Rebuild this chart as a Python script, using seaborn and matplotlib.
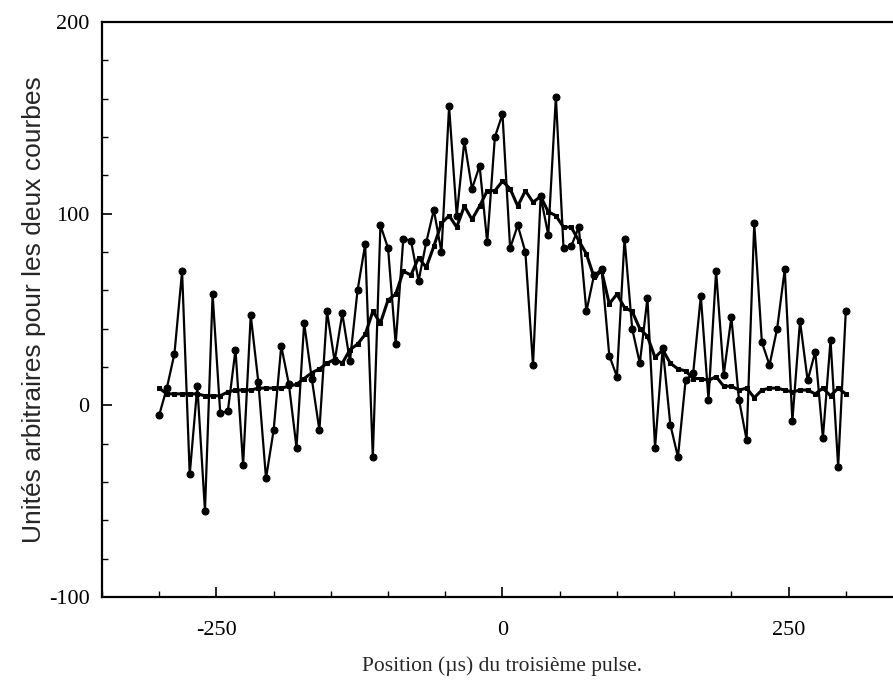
import matplotlib
matplotlib.use('Agg')
import matplotlib.pyplot as plt
from matplotlib.ticker import MultipleLocator
import seaborn as sns
import numpy as np

sns.set_style('ticks')
plt.rcParams['font.family'] = ['Liberation Serif', 'DejaVu Serif']
plt.rcParams['axes.unicode_minus'] = False

#Position of the third pulse (µs), one point every 20/3 µs
positions = np.linspace(-300, 300, 91)

#Noisy curve (big dots)
signal_raw = [-5, 9, 27, 70, -36, 10, -55, 58, -4, -3,
              29, -31, 47, 12, -38, -13, 31, 11, -22, 43,
              14, -13, 49, 23, 48, 23, 60, 84, -27, 94,
              82, 32, 87, 86, 65, 85, 102, 80, 156, 99,
              138, 113, 125, 85, 140, 152, 82, 94, 80, 21,
              109, 89, 161, 82, 83, 93, 49, 68, 71, 26,
              15, 87, 40, 22, 56, -22, 30, -10, -27, 13,
              17, 57, 3, 70, 16, 46, 3, -18, 95, 33,
              21, 40, 71, -8, 44, 13, 28, -17, 34, -32,
              49]

#Smooth curve (small squares)
signal_smooth = [9, 6, 6, 6, 6, 6, 5, 5, 5, 7,
                 8, 8, 8, 9, 9, 9, 9, 10, 11, 14,
                 17, 19, 22, 24, 22, 29, 32, 37, 49, 43,
                 55, 58, 70, 68, 77, 72, 83, 95, 99, 93,
                 104, 97, 104, 112, 112, 117, 113, 104, 112, 106,
                 109, 101, 99, 93, 93, 86, 79, 67, 70, 53,
                 58, 51, 49, 40, 36, 25, 29, 22, 19, 18,
                 14, 14, 13, 15, 10, 10, 8, 9, 4, 8,
                 9, 9, 8, 7, 8, 8, 6, 9, 5, 9,
                 6]

X_LABEL = 'Position (µs) du troisième pulse.'
Y_LABEL = 'Unités arbitraires pour les deux courbes'

fig = plt.figure(figsize=(8.93, 6.82), dpi=100)
#axes run past the right edge like the scanned original
ax = fig.add_axes([0.1142, 0.1246, 0.897, 0.843])

sns.lineplot(x=positions, y=signal_smooth, color='black', linewidth=2.2,
             marker='s', markersize=3.2, markeredgecolor='black', ax=ax)
sns.lineplot(x=positions, y=signal_raw, color='black', linewidth=1.6,
             marker='o', markersize=5, markeredgecolor='black', ax=ax)

ax.set_xlim(-350, 350)
ax.set_ylim(-100, 200)
ax.xaxis.set_major_locator(MultipleLocator(250))
ax.xaxis.set_minor_locator(MultipleLocator(50))
ax.yaxis.set_major_locator(MultipleLocator(100))
ax.yaxis.set_minor_locator(MultipleLocator(20))
ax.tick_params(axis='both', which='both', direction='in', colors='black', labelsize=16)
ax.tick_params(axis='both', which='major', length=7, width=1.2)
ax.tick_params(axis='both', which='minor', length=4, width=1.0)
ax.tick_params(axis='x', which='major', pad=17)
ax.tick_params(axis='y', which='major', pad=9)

for side in ['left', 'bottom', 'top']:
    ax.spines[side].set_linewidth(1.6)
    ax.spines[side].set_color('black')
ax.spines['right'].set_visible(False)

ax.set_xlabel(X_LABEL, fontsize=15.5, labelpad=12)
ax.set_ylabel(Y_LABEL, fontsize=19, labelpad=2,
              family=['Liberation Sans Narrow', 'Liberation Sans', 'DejaVu Sans'])

plt.savefig('out.png', dpi=100)
